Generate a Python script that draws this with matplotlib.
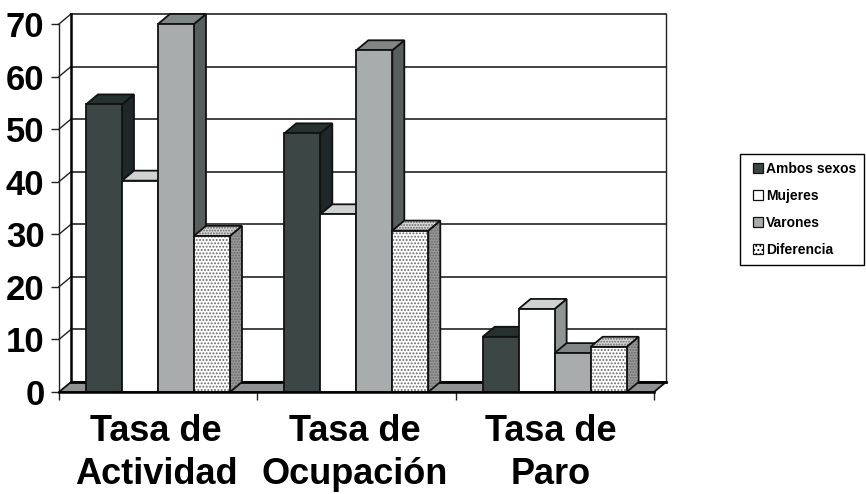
import matplotlib
matplotlib.use("Agg")
import matplotlib.pyplot as plt
from matplotlib.patches import Polygon, Patch, Rectangle
from matplotlib.legend_handler import HandlerPatch

plt.rcParams['font.family'] = ['Liberation Sans', 'DejaVu Sans']
plt.rcParams['hatch.linewidth'] = 0.9

categories = ["Tasa de\nActividad", "Tasa de\nOcupación", "Tasa de\nParo"]
series_names = ["Ambos sexos", "Mujeres", "Varones", "Diferencia"]
ambos = [54.7, 49.2, 10.5]
mujeres = [40.2, 33.8, 15.8]
varones = [70.0, 65.0, 7.4]
diferencia = [29.7, 30.7, 8.6]
yticks = [0, 10, 20, 30, 40, 50, 60, 70]

front = ['#3c4644', '#ffffff', '#a9acac', '#ffffff']
top = ['#263230', '#cfd2d2', '#808585', '#d8d8d8']
side = ['#1e2828', '#8f9494', '#565f5d', '#9a9a9a']
hatched = [False, False, False, True]

W, H = 866, 494
fig = plt.figure(figsize=(W / 100, H / 100), dpi=100)
ax = fig.add_axes([59 / W, (H - 392) / H, 595 / W, 368 / H])
ax.set_xlim(0, 3)
ax.set_ylim(0, 70)
for s in ax.spines.values():
    s.set_visible(False)

DX = 12 / (595 / 3)
DY = 10 / (368 / 70)
BW = 36 / (595 / 3)
GAP = 0.136


def poly(pts, fc, z, hatch=None, lw=1.3, ec='#111111'):
    if hatch:
        ax.add_patch(Polygon(pts, closed=True, facecolor=fc, edgecolor='#666666',
                             hatch=hatch, lw=0, zorder=z, clip_on=False))
        ax.add_patch(Polygon(pts, closed=True, fill=False, edgecolor=ec,
                             lw=lw, zorder=z, clip_on=False))
    else:
        ax.add_patch(Polygon(pts, closed=True, facecolor=fc, edgecolor=ec,
                             lw=lw, zorder=z, clip_on=False))


# walls and floor
for v in yticks[1:]:
    ax.plot([DX, 3 + DX], [v + DY, v + DY], color='#222222', lw=1.2, zorder=1, clip_on=False)
    ax.plot([0, DX], [v, v + DY], color='#222222', lw=1.0, zorder=1, clip_on=False)
ax.plot([DX, DX], [DY, 70 + DY], color='black', lw=1.8, zorder=1, clip_on=False)
ax.plot([0, 0], [0, 70], color='#222222', lw=1.0, zorder=1, clip_on=False)
ax.plot([3 + DX, 3 + DX], [DY, 70 + DY], color='#222222', lw=1.0, zorder=1, clip_on=False)
poly([(0, 0), (DX, DY), (3 + DX, DY), (3, 0)], '#8f9292', 2, lw=1.3)
ax.plot([DX, 3 + DX], [DY, DY], color='black', lw=2, zorder=2, clip_on=False)

# bars
z = 3
all_series = [ambos, mujeres, varones, diferencia]
for g in range(len(categories)):
    for i, vals in enumerate(all_series):
        x0 = g + GAP + i * BW
        x1 = x0 + BW
        v = vals[g]
        h = '......' if hatched[i] else None
        poly([(x1, 0), (x1 + DX, DY), (x1 + DX, v + DY), (x1, v)], side[i], z, h)
        poly([(x0, v), (x0 + DX, v + DY), (x1 + DX, v + DY), (x1, v)], top[i], z, h)
        poly([(x0, 0), (x1, 0), (x1, v), (x0, v)], front[i], z + 0.5, '.....' if h else None)
        z += 1

ax.plot([0, 3], [0, 0], color='black', lw=1.8, zorder=z, clip_on=False)

ax.set_yticks(yticks)
ax.set_yticklabels([str(v) for v in yticks], fontsize=25, fontweight='bold')
ax.tick_params(axis='y', length=6, width=1, pad=4.5, color='#222222')
ax.set_xticks([0, 1, 2, 3])
ax.set_xticklabels([])
ax.tick_params(axis='x', which='major', length=6, width=1, color='#222222')
ax.set_xticks([0.49, 1.49, 2.48], minor=True)
ax.set_xticklabels(categories, minor=True, fontsize=26, fontweight='bold', linespacing=1.3)
ax.tick_params(axis='x', which='minor', length=0, pad=16)


def inset_square(legend, orig_handle, xdescent, ydescent, width, height, fontsize):
    # 10 px square at the right of the handle box (72 points per 100 px)
    size = 10 * 0.72
    return Rectangle((width - size - xdescent, (height - size) / 2 - ydescent), size, size)


handles = [Patch(facecolor=front[i], edgecolor='#111111', lw=0.9,
                 hatch='....' if hatched[i] else None) for i in range(4)]
leg = fig.legend(handles, series_names, loc='upper left',
                 bbox_to_anchor=(740 / W, (H - 154) / H), bbox_transform=fig.transFigure,
                 prop={'size': 10, 'weight': 'bold'}, frameon=True, fancybox=False,
                 edgecolor='black', framealpha=1, handlelength=1.1, handleheight=0.75,
                 handletextpad=0.2, labelspacing=0.95, borderaxespad=0, borderpad=0.55,
                 handler_map={Patch: HandlerPatch(patch_func=inset_square)})
leg.get_frame().set_linewidth(1.0)

fig.savefig("out.png", dpi=100)
